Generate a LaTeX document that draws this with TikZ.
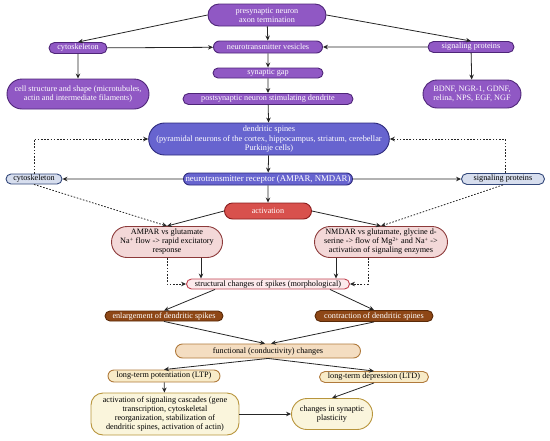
\documentclass[tikz,border=0pt]{standalone}
\usepackage{fontspec}
\setmainfont{Liberation Serif}
\usetikzlibrary{shapes.misc,arrows.meta}

\definecolor{purplefill}{HTML}{9058C4}
\definecolor{purpledraw}{HTML}{4E2578}
\definecolor{bluefill}{HTML}{6764CF}
\definecolor{bluedraw}{HTML}{2D2A7C}
\definecolor{palebluefill}{HTML}{D7DEEE}
\definecolor{palebluedraw}{HTML}{33487A}
\definecolor{redfill}{HTML}{D8514D}
\definecolor{reddraw}{HTML}{8A1E1E}
\definecolor{pinkfill}{HTML}{F3D8D8}
\definecolor{pinkdraw}{HTML}{8C3A3A}
\definecolor{rosefill}{HTML}{FCEAEC}
\definecolor{rosedraw}{HTML}{C0404E}
\definecolor{brownfill}{HTML}{8E4716}
\definecolor{browndraw}{HTML}{5A2A08}
\definecolor{tanfill}{HTML}{F4DDC1}
\definecolor{tandraw}{HTML}{B07A3C}
\definecolor{creamfill}{HTML}{F8EBC8}
\definecolor{ivoryfill}{HTML}{FAF5DC}
\definecolor{ivorydraw}{HTML}{B8953C}

\begin{document}
\begin{tikzpicture}[
    x=1pt, y=-1pt,
    box/.style={rounded rectangle, draw, line width=0.9pt, inner sep=1pt, align=center,
        font=\fontsize{8.2}{9}\selectfont},
    presyn/.style={box, fill=purplefill, draw=purpledraw, text=white},
    spine/.style={box, fill=bluefill, draw=bluedraw, text=white},
    side/.style={box, fill=palebluefill, draw=palebluedraw},
    activ/.style={box, fill=redfill, draw=reddraw, text=white},
    receptor/.style={box, fill=pinkfill, draw=pinkdraw},
    morph/.style={box, fill=rosefill, draw=rosedraw},
    spinebox/.style={box, fill=brownfill, draw=browndraw, text=white},
    funct/.style={box, fill=tanfill, draw=tandraw},
    plast/.style={box, fill=creamfill, draw=tandraw},
    outcome/.style={box, fill=ivoryfill, draw=ivorydraw},
    arr/.style={-{Stealth[length=5pt,width=4.5pt]}, line width=0.8pt, black!85},
    dots/.style={arr, dash pattern=on 1.6pt off 1.6pt}
]
    \useasboundingbox (0,0) rectangle (550,440);

    % presynaptic side
    \node[presyn, minimum width=120pt, minimum height=22pt] (pre) at (267,15) {presynaptic neuron\\axon termination};
    \node[presyn, minimum width=60pt, minimum height=11pt] (cyto) at (78,48) {cytoskeleton};
    \node[presyn, minimum width=111pt, minimum height=12pt] (vesic) at (268,47) {neurotransmitter vesicles};
    \node[presyn, minimum width=88pt, minimum height=11pt] (sig) at (471,47) {signaling proteins};
    \node[presyn, minimum width=144pt, minimum height=30pt] (cell) at (78,94) {cell structure and shape (microtubules,\\actin and intermediate filaments)};
    \node[presyn, minimum width=100pt, minimum height=28pt] (bdnf) at (472,94) {BDNF, NGR-1, GDNF,\\relina, NPS, EGF, NGF};
    \node[presyn, minimum width=112pt, minimum height=10pt] (gap) at (268,73) {synaptic gap};
    \node[presyn, minimum width=172pt, minimum height=11pt] (post) at (268,99) {postsynaptic neuron stimulating dendrite};

    % postsynaptic side
    \node[spine, font=\fontsize{8.3}{9.2}\selectfont, minimum width=224pt, minimum height=32pt] (spines) at (269,139) {dendritic spines\\(pyramidal neurons of the cortex, hippocampus, striatum, cerebellar\\Purkinje cells)};
    \node[spine, font=\fontsize{8.8}{9}\selectfont, minimum width=171pt, minimum height=12pt] (recep) at (268,179) {neurotransmitter receptor (AMPAR, NMDAR)};
    \node[side, minimum width=58pt, minimum height=10pt] (cytl) at (34,179) {cytoskeleton};
    \node[side, minimum width=85pt, minimum height=11pt] (sigl) at (503,179) {signaling proteins};
    \node[activ, minimum width=89pt, minimum height=16pt] (act) at (268,211) {activation};
    \node[receptor, minimum width=113pt, minimum height=31pt] (ampar) at (167,242) {AMPAR vs glutamate\\Na\textsuperscript{+} flow -> rapid excitatory\\response};
    \node[receptor, minimum width=135pt, minimum height=31pt] (nmdar) at (381,242) {NMDAR vs glutamate, glycine d-\\serine -> flow of Mg\textsuperscript{2+} and Na\textsuperscript{+} ->\\activation of signaling enzymes};
    \node[morph, minimum width=165pt, minimum height=10pt] (struct) at (268,284) {structural changes of spikes (morphological)};
    \node[spinebox, minimum width=120pt, minimum height=10pt] (enl) at (164,316) {enlargement of dendritic spikes};
    \node[spinebox, minimum width=120pt, minimum height=11pt] (contr) at (374,316) {contraction of dendritic spines};

    % plasticity
    \node[funct, minimum width=187pt, minimum height=14pt] (func) at (268,351) {functional (conductivity) changes};
    \node[plast, minimum width=114pt, minimum height=12pt] (ltp) at (164,376) {long-term potentiation (LTP)};
    \node[plast, minimum width=111pt, minimum height=11pt] (ltd) at (374,377) {long-term depression (LTD)};
    \node[outcome, rectangle, rounded corners=12pt, minimum width=148pt, minimum height=42pt] (casc) at (165,414) {activation of signaling cascades (gene\\transcription, cytoskeletal\\reorganization, stabilization of\\dendritic spines, activation of actin)};
    \node[outcome, minimum width=83pt, minimum height=31pt] (chg) at (332,414) {changes in synaptic\\plasticity};

    % connectors
    \draw[arr] (pre.west) -- (cyto.north);
    \draw[arr] (pre.east) -- (sig.north);
    \draw[arr] (pre) -- (vesic);
    \draw[arr] (cyto) -- (vesic);
    \draw[arr] (sig) -- (vesic);
    \draw[arr] (cyto) -- (cell);
    \draw[arr] (sig) -- (bdnf);
    \draw[arr] (vesic) -- (gap);
    \draw[arr] (gap) -- (post);
    \draw[arr] (post) -- (spines);
    \draw[arr] (spines) -- (recep);
    \draw[arr] (recep) -- (act);
    \draw[arr] (recep) -- (cytl);
    \draw[arr] (recep) -- (sigl);
    \draw[dots] (cytl.north) |- (spines.west);
    \draw[dots] ([xshift=2pt]sigl.north) |- (spines.east);
    \draw[dots] (cytl.south) -- (ampar.north);
    \draw[dots] (sigl.south) -- (nmdar.north);
    \draw[arr] (act.west) -- (ampar.north);
    \draw[arr] (act.east) -- (nmdar.north);
    \draw[arr] ([xshift=34pt]ampar.south) -- ([xshift=34pt]ampar.south |- struct.north);
    \draw[arr] ([xshift=-45pt]nmdar.south) -- ([xshift=-45pt]nmdar.south |- struct.north);
    \draw[dots] (ampar.south) |- (struct.west);
    \draw[dots] ([xshift=-13pt]nmdar.south) |- (struct.east);
    \draw[arr] ([xshift=-53pt]struct.south) -- (enl.north);
    \draw[arr] ([xshift=62pt]struct.south) -- (contr.north);
    \draw[arr] (enl.south) -- ([xshift=-3pt]func.north);
    \draw[arr] (contr.south) -- ([xshift=3pt]func.north);
    \draw[arr] (func.south) -- (ltp.north);
    \draw[arr] (func.south) -- (ltd.north);
    \draw[arr] (ltp) -- (casc);
    \draw[arr] (ltd.south) -- (chg.north);
    \draw[arr] (casc) -- (chg);

\end{tikzpicture}
\end{document}
